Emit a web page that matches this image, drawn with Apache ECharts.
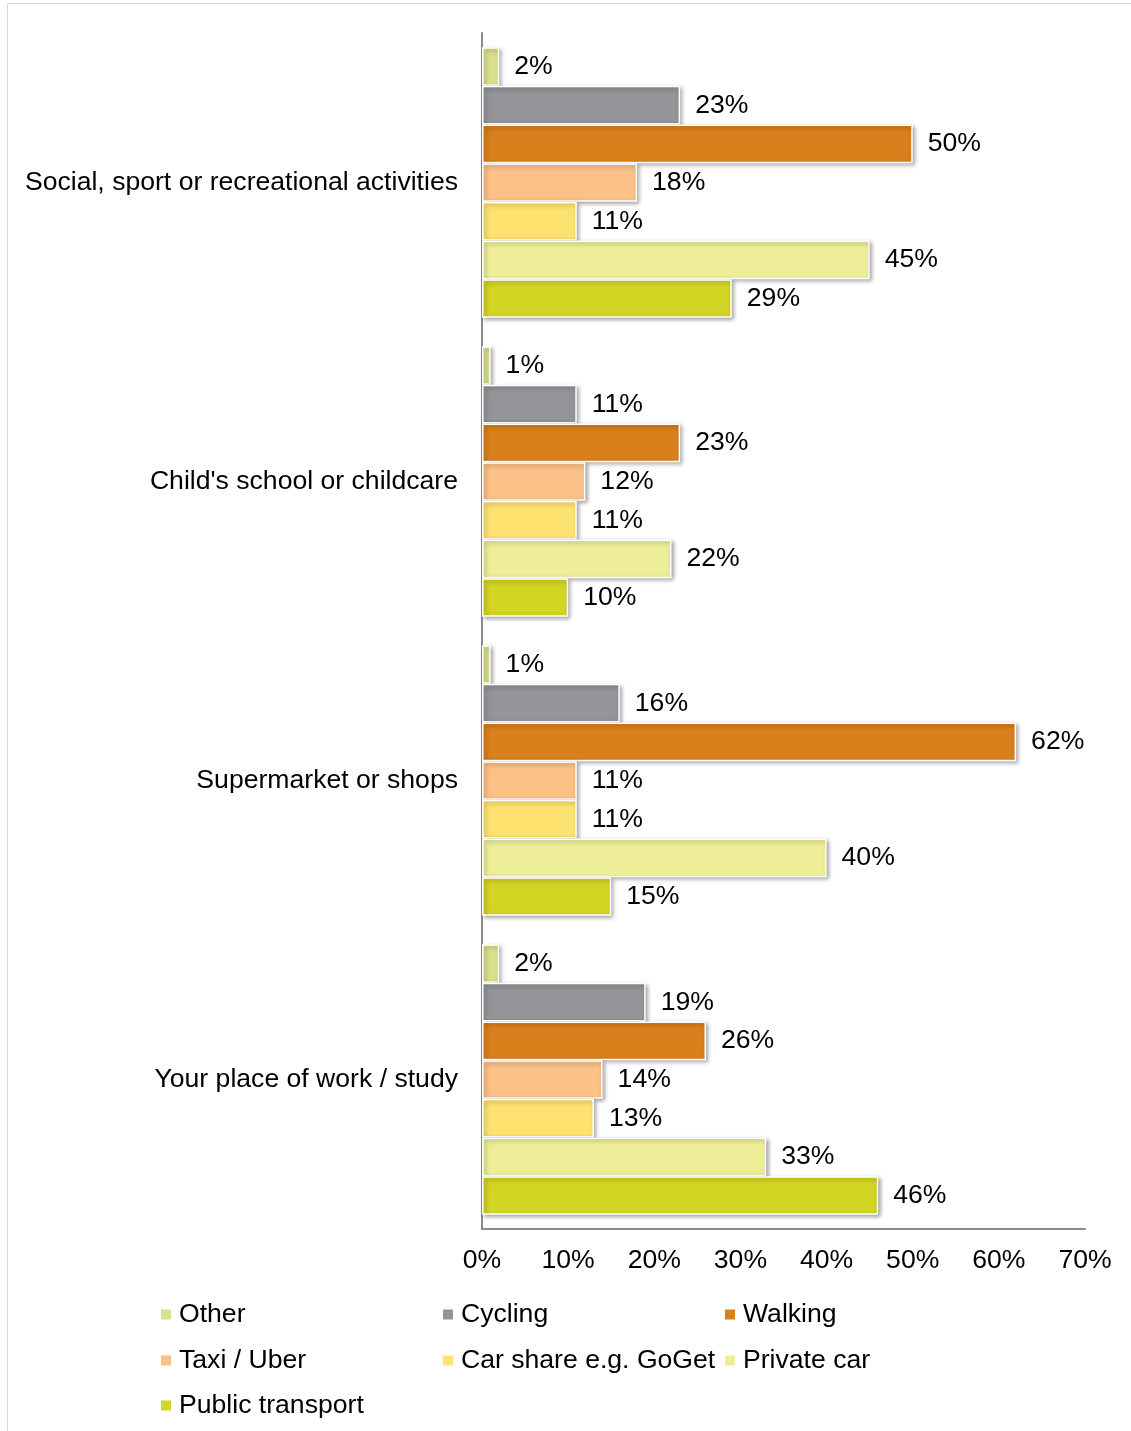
<!DOCTYPE html>
<html>
<head>
<meta charset="utf-8">
<script src="https://cdn.jsdelivr.net/npm/echarts@6/dist/echarts.min.js"></script>
<style>
  html, body { margin: 0; padding: 0; background: #ffffff; }
  #frame { position: absolute; left: 7px; top: 3px; width: 1140px; height: 1440px; border: 1px solid #d9d9d9; box-sizing: border-box; }
  #chart { position: absolute; left: 0; top: 0; width: 1131px; height: 1431px; }
</style>
</head>
<body>
<div id="frame"></div>
<div id="chart"></div>
<script>
// Destinations, listed bottom to top on the category axis
const categories = [
  'Your place of work / study',
  'Supermarket or shops',
  "Child's school or childcare",
  'Social, sport or recreational activities'
];

// Share of respondents (%) per travel mode, same order as categories
const publicTransport = [46, 15, 10, 29];
const privateCar      = [33, 40, 22, 45];
const carShare        = [13, 11, 11, 11];
const taxiUber        = [14, 11, 12, 18];
const walking         = [26, 62, 23, 50];
const cycling         = [19, 16, 11, 23];
const other           = [2, 1, 1, 2];

const xTicks = [0, 10, 20, 30, 40, 50, 60, 70];

// Legend reading order
const legendOrder = ['Other', 'Cycling', 'Walking', 'Taxi / Uber', 'Car share e.g. GoGet', 'Private car', 'Public transport'];

// First series sits at the top of each group
const seriesDefs = [
  { name: 'Other',                data: other,           color: '#d9df8c' },
  { name: 'Cycling',              data: cycling,         color: '#939598' },
  { name: 'Walking',              data: walking,         color: '#d97f1b' },
  { name: 'Taxi / Uber',          data: taxiUber,        color: '#fbc187' },
  { name: 'Car share e.g. GoGet', data: carShare,        color: '#fee26f' },
  { name: 'Private car',          data: privateCar,      color: '#eeee99' },
  { name: 'Public transport',     data: publicTransport, color: '#d2d523' }
];

const FONT = '"Liberation Sans", Arial, sans-serif';
const FS = 26.6;

const chart = echarts.init(document.getElementById('chart'), null, { renderer: 'canvas' });

const legendPos = [
  [161, 1301], [443, 1301], [725, 1301],
  [161, 1347], [443, 1347], [725, 1347],
  [161, 1392]
];

const legends = legendOrder.map((name, i) => ({
  data: [name],
  left: legendPos[i][0],
  top: legendPos[i][1],
  orient: 'horizontal',
  itemWidth: 10,
  itemHeight: 10,
  itemGap: 0,
  icon: 'rect',
  selectedMode: false,
  padding: 0,
  itemStyle: { borderWidth: 0, shadowBlur: 0, shadowOffsetX: 0, shadowOffsetY: 0, shadowColor: 'transparent' },
  textStyle: { fontFamily: FONT, fontSize: FS, color: '#000', padding: [0, 0, 0, 3] }
}));

chart.setOption({
  animation: false,
  backgroundColor: 'transparent',
  legend: legends,
  grid: { left: 482, right: 46, top: 33, bottom: 1431 - 1229, containLabel: false },
  xAxis: {
    type: 'value',
    min: 0,
    max: 70,
    interval: 10,
    axisLine: { show: true, lineStyle: { color: '#8c8c8c', width: 2 } },
    axisTick: { show: false },
    splitLine: { show: false },
    axisLabel: {
      fontFamily: FONT, fontSize: FS, color: '#000', margin: 18,
      formatter: v => (xTicks.includes(v) ? v + '%' : '')
    }
  },
  yAxis: {
    type: 'category',
    data: categories,
    axisLine: { show: true, lineStyle: { color: '#8c8c8c', width: 2 } },
    axisTick: { show: false },
    axisLabel: { fontFamily: FONT, fontSize: FS, color: '#000', margin: 24 }
  },
  series: seriesDefs.map(s => ({
    type: 'bar',
    name: s.name,
    data: s.data,
    barGap: '0%',
    barCategoryGap: '9.5%',
    itemStyle: {
      color: s.color,
      borderColor: '#ffffff',
      borderWidth: 1.5,
      shadowColor: 'rgba(0,0,0,0.35)',
      shadowBlur: 4,
      shadowOffsetX: 2,
      shadowOffsetY: 2
    },
    label: {
      show: true,
      position: 'right',
      distance: 15,
      formatter: p => p.value + '%',
      fontFamily: FONT,
      fontSize: FS,
      color: '#000'
    }
  }))
});
</script>
</body>
</html>
